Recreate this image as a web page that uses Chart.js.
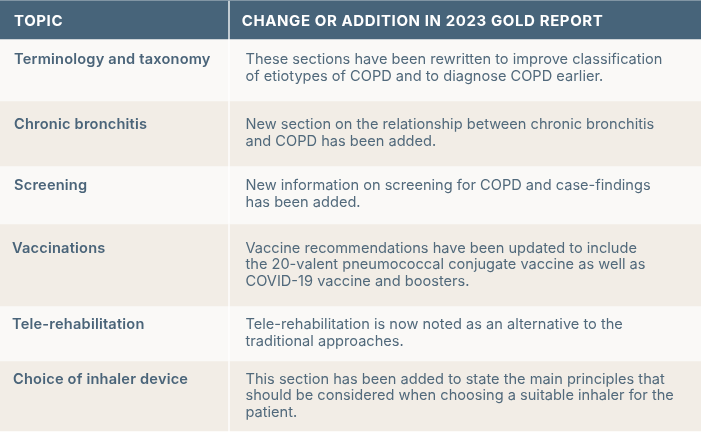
<!DOCTYPE html>
<html><head><meta charset="utf-8">
<script src="https://cdn.jsdelivr.net/npm/chart.js@4.4.1/dist/chart.umd.min.js"></script>
<style>html,body{margin:0;padding:0;background:#fff}canvas{display:block}</style>
</head><body>
<canvas id="c" width="701" height="433"></canvas>
<script>
// ---- data ----
const headers = ['TOPIC', 'CHANGE OR ADDITION IN 2023 GOLD REPORT'];
const topics = ['Terminology and taxonomy', 'Chronic bronchitis', 'Screening', 'Vaccinations', 'Tele-rehabilitation', 'Choice of inhaler device'];
const changes = [
  ['These sections have been rewritten to improve classification', 'of etiotypes of COPD and to diagnose COPD earlier.'],
  ['New section on the relationship between chronic bronchitis', 'and COPD has been added.'],
  ['New information on screening for COPD and case-findings', 'has been added.'],
  ['Vaccine recommendations have been updated to include', 'the 20-valent pneumococcal conjugate vaccine as well as', 'COVID-19 vaccine and boosters.'],
  ['Tele-rehabilitation is now noted as an alternative to the', 'traditional approaches.'],
  ['This section has been added to state the main principles that', 'should be considered when choosing a suitable inhaler for the', 'patient.']
];

// ---- layout (pixels) ----
const W = 701, H = 433;
const rowEdges = [1, 39, 101, 166, 224, 306, 361, 431]; // header + 6 rows
const colEdges = [[0, 228], [230, 701]];
const firstBaseline = [24.8, 25.3, 28.3, 24, 28.7, 23, 22.7];
const topicX = [14, 14, 14, 12, 12, 13];
const descX = 245.5;
const lineH = 16.6;
const colors = { header: '#47647a', light: '#faf9f7', beige: '#f2ede6', topic: '#4a6479', body: '#51697b', border: '#95a6b3' };
const FONT = 'Inter';

const rowFill = i => i === 0 ? colors.header : (i % 2 === 1 ? colors.light : colors.beige);

const datasets = [];
for (let r = 0; r < rowEdges.length - 1; r++) {
  const top = rowEdges[r], bot = rowEdges[r + 1];
  datasets.push({
    label: r === 0 ? 'header' : topics[r - 1],
    data: colEdges.map(c => ({ x: [c[0], c[1]], y: (top + bot) / 2 })),
    backgroundColor: rowFill(r),
    borderWidth: 0,
    barThickness: bot - top,
    grouped: false
  });
}

const tablePlugin = {
  id: 'tableText',
  beforeDraw(chart) {
    const ctx = chart.ctx;
    ctx.save();
    ctx.fillStyle = '#ffffff';
    ctx.fillRect(0, 0, W, H);
    ctx.fillStyle = colors.border;
    ctx.fillRect(0, 0, W, 1);
    ctx.restore();
  },
  afterDatasetsDraw(chart) {
    const ctx = chart.ctx;
    ctx.save();
    ctx.textBaseline = 'alphabetic';
    ctx.textAlign = 'left';
    for (let r = 0; r < rowEdges.length - 1; r++) {
      const meta = chart.getDatasetMeta(r);
      const left = meta.data[0], right = meta.data[1];
      const top = left.y - left.height / 2;
      const base = top + firstBaseline[r];
      if (r === 0) {
        ctx.fillStyle = '#ffffff';
        ctx.font = '700 15px "' + FONT + '"';
        ctx.letterSpacing = '0.6px';
        ctx.fillText(headers[0], left.base + 14, base);
        ctx.fillText(headers[1], right.base + 11.7, base);
        ctx.letterSpacing = '0px';
      } else {
        ctx.fillStyle = colors.topic;
        ctx.font = '600 14.6px "' + FONT + '"';
        ctx.letterSpacing = '0.2px';
        ctx.fillText(topics[r - 1], left.base + topicX[r - 1], base);
        ctx.letterSpacing = '0px';
        ctx.fillStyle = colors.body;
        ctx.font = '400 14.6px "' + FONT + '"';
        changes[r - 1].forEach((ln, k) => ctx.fillText(ln, descX, base + k * lineH));
      }
    }
    ctx.restore();
  }
};

new Chart(document.getElementById('c'), {
  type: 'bar',
  data: { datasets },
  options: {
    indexAxis: 'y',
    responsive: false,
    animation: false,
    devicePixelRatio: 1,
    layout: { padding: 0 },
    plugins: { legend: { display: false }, tooltip: { enabled: false } },
    scales: {
      x: { type: 'linear', min: 0, max: W, display: false, offset: false },
      y: { type: 'linear', min: 0, max: H, reverse: true, display: false, offset: false }
    }
  },
  plugins: [tablePlugin]
});
</script>
</body></html>
